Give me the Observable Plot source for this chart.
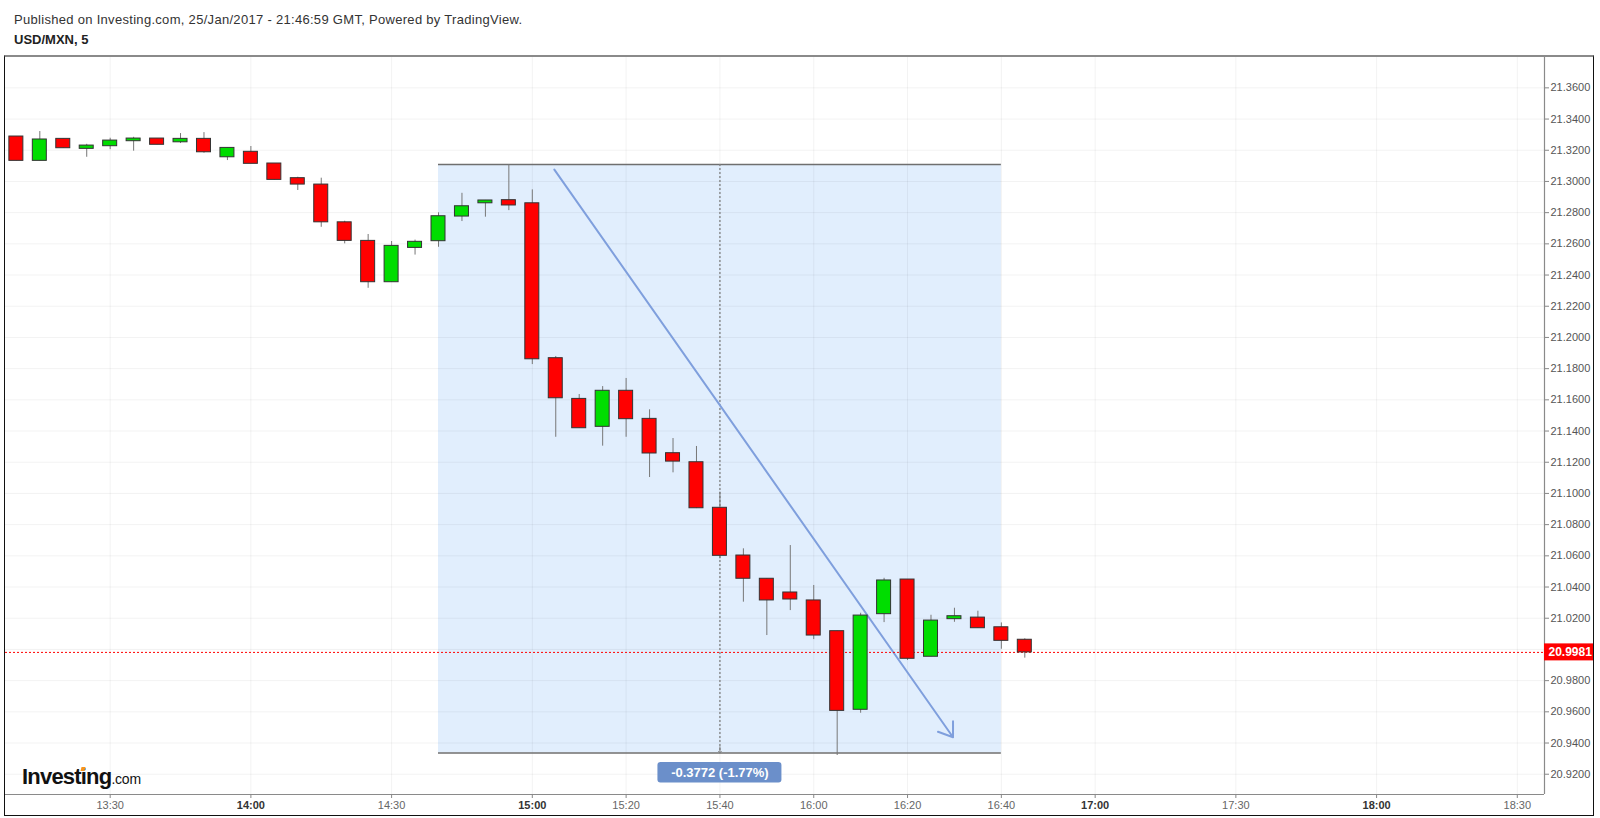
<!DOCTYPE html>
<html>
<head>
<meta charset="utf-8">
<script src="https://cdn.jsdelivr.net/npm/d3@7"></script>
<script src="https://cdn.jsdelivr.net/npm/@observablehq/plot@0.6"></script>
<style>
  body { margin: 0; background: #fff; font-family: Arial, "Liberation Sans", sans-serif; }
  #wrap { position: relative; width: 1600px; height: 818px; overflow: hidden; background: #fff; }
  #pub { position: absolute; left: 14px; top: 12px; font-size: 13px; letter-spacing: 0.3px; line-height: 15px; color: #333; white-space: nowrap; }
  #sym { position: absolute; left: 14px; top: 32px; font-size: 13px; line-height: 15px; font-weight: bold; color: #222; }
  #chart { position: absolute; left: 0; top: 56px; }
  #frame { position: absolute; left: 4px; top: 55px; width: 1590px; height: 761px; box-sizing: border-box;
           border: 1.5px solid #111; border-top: 2px solid #8a8a8a; pointer-events: none; }
  #logo { position: absolute; left: 22px; top: 766px; line-height: 22px; color: #111; white-space: nowrap; }
  #logo .a { font-size: 22px; font-weight: bold; letter-spacing: -0.8px; }
  #logo .b { font-size: 14px; letter-spacing: -0.2px; }
  #dot { position: absolute; left: 81px; top: 767px; width: 4px; height: 4px; background: #f7941d; transform: skewX(-15deg); }
</style>
</head>
<body>
<div id="wrap">
  <div id="pub">Published on Investing.com, 25/Jan/2017 - 21:46:59 GMT, Powered by TradingView.</div>
  <div id="sym">USD/MXN, 5</div>
  <div id="chart"></div>
  <div id="logo"><span class="a">Investing</span><span class="b">.com</span></div>
  <div id="dot"></div>
  <div id="frame"></div>
</div>
<script>
// ---- data (5-minute candles, USD/MXN, 25 Jan 2017, GMT) ----
const times = ["13:10","13:15","13:20","13:25","13:30","13:35","13:40","13:45","13:50","13:55",
               "14:00","14:05","14:10","14:15","14:20","14:25","14:30","14:35","14:40","14:45",
               "14:50","14:55","15:00","15:05","15:10","15:15","15:20","15:25","15:30","15:35",
               "15:40","15:45","15:50","15:55","16:00","16:05","16:10","16:15","16:20","16:25",
               "16:30","16:35","16:40","16:45"];
const opens  = [21.3288,21.3132,21.3273,21.3209,21.3226,21.3258,21.3275,21.3251,21.3273,21.3155,
                21.3190,21.3115,21.3021,21.2980,21.2738,21.2619,21.2354,21.2574,21.2617,21.2775,
                21.2860,21.2880,21.2860,21.1867,21.1606,21.1427,21.1658,21.1478,21.1258,21.1200,
                21.0908,21.0602,21.0453,21.0365,21.0314,21.0117,20.9613,21.0226,21.0448,20.9953,
                21.0194,21.0204,21.0142,21.0062];
const highs  = [21.3288,21.3320,21.3273,21.3238,21.3277,21.3283,21.3275,21.3307,21.3313,21.3215,
                21.3224,21.3115,21.3027,21.3021,21.2745,21.2660,21.2615,21.2624,21.2799,21.2924,
                21.2878,21.3108,21.2946,21.1878,21.1634,21.1685,21.1737,21.1536,21.1352,21.1301,
                21.1008,21.0645,21.0454,21.0666,21.0410,21.0117,21.0232,21.0456,21.0448,21.0219,
                21.0264,21.0245,21.0170,21.0068];
const lows   = [21.3132,21.3132,21.3213,21.3155,21.3204,21.3194,21.3235,21.3243,21.3181,21.3134,
                21.3113,21.3010,21.2942,21.2706,21.2600,21.2315,21.2354,21.2528,21.2578,21.2743,
                21.2771,21.2813,21.1826,21.1360,21.1418,21.1303,21.1360,21.1102,21.1132,21.0903,
                21.0581,21.0303,21.0089,21.0249,21.0063,20.9320,20.9591,21.0172,20.9929,20.9953,
                21.0174,21.0136,21.0001,20.9944];
const closes = [21.3132,21.3269,21.3213,21.3230,21.3262,21.3275,21.3235,21.3273,21.3187,21.3215,
                21.3113,21.3010,21.2980,21.2738,21.2619,21.2354,21.2587,21.2613,21.2777,21.2841,
                21.2878,21.2846,21.1860,21.1610,21.1418,21.1658,21.1476,21.1256,21.1204,21.0905,
                21.0600,21.0453,21.0314,21.0320,21.0089,20.9606,21.0217,21.0442,20.9940,21.0185,
                21.0213,21.0136,21.0055,20.9981];

// axis tick labels
const xTicksNormal = ["13:30","14:30","15:20","15:40","16:00","16:20","16:40","17:30","18:30"];
const xTicksBold   = ["14:00","15:00","17:00","18:00"];
const yTicks = [20.92,20.94,20.96,20.98,21.00,21.02,21.04,21.06,21.08,21.10,21.12,21.14,
                21.16,21.18,21.20,21.22,21.24,21.26,21.28,21.30,21.32,21.34,21.36];
const yLabelTicks = yTicks.filter(v => Math.abs(v - 21.00) > 1e-9);

// measure tool (range box) and trend arrow
const measureStart = "14:40", measureEnd = "16:40", measureMid = "15:40";
const measureHigh = 21.3108, measureLow = 20.9336;
const measureLabel = "-0.3772 (-1.77%)";
const trendFrom = ["15:04:42", 21.3076];
const trendTo   = ["16:29:42", 20.9437];
const lastPrice = 20.9981;

// view window
const viewStart = "13:07:41", viewEnd = "18:35:48";
const priceMin = 20.907, priceMax = 21.3801;

// ---- build ----
const T = s => { const p = s.split(":").map(Number); return new Date(Date.UTC(2017, 0, 25, p[0], p[1], p[2] || 0)); };
const candles = times.map((t, i) => ({t: T(t), o: opens[i], h: highs[i], l: lows[i], c: closes[i]}));
const xStart = T(viewStart), xEnd = T(viewEnd);
const measure = {t1: T(measureStart), t2: T(measureEnd), tm: T(measureMid), hi: measureHigh, lo: measureLow, label: measureLabel};
const trend = {x1: T(trendFrom[0]), y1: trendFrom[1], x2: T(trendTo[0]), y2: trendTo[1]};
const last = {x: xEnd, y: lastPrice, label: lastPrice.toFixed(4)};
const fmt = d3.utcFormat("%H:%M");
const allXTicks = [...xTicksNormal, ...xTicksBold].map(T);

const chart = Plot.plot({
  width: 1600,
  height: 762,
  marginTop: 0,
  marginBottom: 24,
  marginLeft: 5,
  marginRight: 56,
  x: {type: "utc", domain: [xStart, xEnd]},
  y: {domain: [priceMin, priceMax]},
  style: {fontFamily: "Arial, 'Liberation Sans', sans-serif", fontSize: "11px", background: "transparent", overflow: "visible"},
  marks: [
    Plot.rect([measure], {x1: "t1", x2: "t2", y1: "lo", y2: "hi", fill: "#e1eefd"}),
    Plot.gridX(allXTicks, {stroke: "#000", strokeOpacity: 0.05}),
    Plot.gridY(yTicks, {stroke: "#000", strokeOpacity: 0.05}),
    Plot.ruleY([measure.hi, measure.lo], {x1: () => measure.t1, x2: () => measure.t2, stroke: "#6f6f6f", strokeWidth: 1.5}),
    Plot.ruleX([measure], {x: "tm", y1: "hi", y2: "lo", stroke: "#808080", strokeDasharray: "2,2", strokeWidth: 1.3}),
    Plot.arrow([measure], {x1: "tm", x2: "tm", y1: d => d.lo + 0.004, y2: "lo", stroke: "#808080", strokeWidth: 1, headLength: 6, headAngle: 80}),
    Plot.arrow([trend], {x1: "x1", y1: "y1", x2: "x2", y2: "y2", stroke: "#7f9fdd", strokeWidth: 2, headLength: 12, headAngle: 70}),
    Plot.ruleY([lastPrice], {stroke: "#ff0000", strokeDasharray: "2,2", strokeWidth: 1}),
    Plot.ruleX(candles, {x: "t", y1: "l", y2: "h", stroke: "#777", strokeWidth: 1}),
    Plot.rect(candles, {
      x1: "t", x2: "t", y1: "o", y2: "c",
      insetLeft: -7, insetRight: -7,
      fill: d => d.c >= d.o ? "#00dd00" : "#ff0000",
      stroke: "#333", strokeWidth: 1
    }),
    Plot.ruleX([xEnd], {stroke: "#8a8a8a", strokeWidth: 1.2}),
    Plot.ruleY([priceMin], {stroke: "#8a8a8a", strokeWidth: 1.2}),
    Plot.axisY(yLabelTicks, {anchor: "right", tickSize: 4, tickPadding: 2, tickFormat: d => d.toFixed(4), color: "#555", stroke: "#888", fontSize: 11, label: null}),
    Plot.axisX(xTicksNormal.map(T), {anchor: "bottom", tickSize: 4, tickPadding: 3, tickFormat: fmt, color: "#666", stroke: "#888", fontSize: 11, label: null}),
    Plot.axisX(xTicksBold.map(T), {anchor: "bottom", tickSize: 4, tickPadding: 3, tickFormat: fmt, color: "#333", stroke: "#888", fontSize: 11, fontWeight: "bold", label: null}),
    Plot.rect([last], {x1: "x", x2: "x", y1: "y", y2: "y", insetLeft: 0, insetRight: -49, insetTop: -8.5, insetBottom: -8.5, fill: "#ff0000"}),
    Plot.text([last], {x: "x", y: "y", text: "label", dx: 4, textAnchor: "start", fill: "white", fontWeight: "bold", fontSize: 12}),
    Plot.rect([measure], {x1: "tm", x2: "tm", y1: "lo", y2: "lo", insetLeft: -62, insetRight: -62, insetTop: 9.5, insetBottom: -30, fill: "#6b8fca", rx: 3}),
    Plot.text([measure], {x: "tm", y: "lo", text: "label", dy: 20, fill: "white", fontSize: 13, fontWeight: "bold"})
  ]
});
document.getElementById("chart").appendChild(chart);
</script>
</body>
</html>
